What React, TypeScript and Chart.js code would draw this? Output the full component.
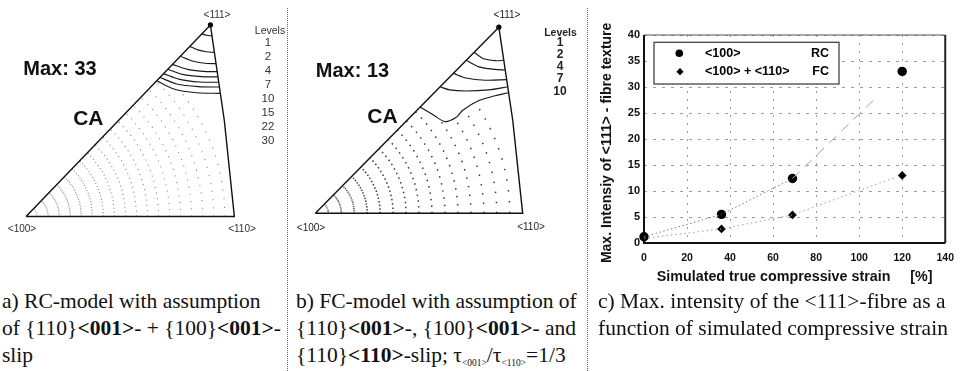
import React, { useEffect, useRef } from "react";
import { Chart, registerables } from "chart.js";

Chart.register(...registerables);

// ---------------- Panel c data ----------------
const STRAIN_PCT = [0, 36, 69, 120];
const RC_MAX_INTENSITY = [1.2, 5.5, 12.4, 33];
const FC_MAX_INTENSITY = [0.9, 2.7, 5.4, 13];
const RC_TREND_STRAIN = [0, 36, 69, 108];
const RC_TREND_VALUE = [1.2, 5.5, 12.4, 28];
const FC_TREND_STRAIN = [0, 36, 69, 116];
const FC_TREND_VALUE = [0.9, 2.7, 5.4, 12.5];
const X_TICKS = [0, 20, 40, 60, 80, 100, 120, 140];
const Y_TICKS = [0, 5, 10, 15, 20, 25, 30, 35, 40];
const LEGEND_LABELS = ["<100>", "<100> + <110>"];
const LEGEND_MODELS = ["RC", "FC"];
const X_AXIS_TITLE = "Simulated true compressive strain     [%]";
const Y_AXIS_TITLE = "Max. Intensiy of <111> - fibre texture  ";

// ---------------- Pole figure data (u: <100>=0 .. <110>=100, v: base=0 .. <111>=100) ----------------
const TRIANGLE_U = [0, 100, 95.2, 88.5, 0];
const TRIANGLE_V = [0, 0, 50, 100, 0];
const POLE_111 = [88.5, 100];

const RC_LEVELS = ["1", "2", "4", "7", "10", "15", "22", "30"];
const FC_LEVELS = ["1", "2", "4", "7", "10"];

const RC_CONTOURS_U = [
  [84.3, 86.8, 89.3],
  [78.6, 82.5, 86.5, 90.4],
  [74.1, 79.8, 85.7, 91.2],
  [70.3, 77.5, 85.0, 91.8],
  [68.1, 75.2, 84.0, 92.1],
  [66.0, 73.7, 83.4, 92.5],
  [64.3, 72.3, 82.7, 92.8],
  [62.7, 71.0, 82.0, 93.3],
];
const RC_CONTOURS_V = [
  [95.3, 94.6, 94.3],
  [88.8, 87.0, 86.0, 85.7],
  [83.7, 81.2, 80.0, 79.8],
  [79.4, 76.8, 75.8, 75.6],
  [76.9, 74.2, 73.0, 72.9],
  [74.6, 71.6, 70.2, 70.1],
  [72.6, 69.2, 67.8, 67.6],
  [70.9, 66.6, 64.6, 64.3],
];

const FC_CONTOURS_U = [
  [76.5, 81.2, 86.7, 90.9],
  [72.7, 78.9, 86.7, 91.6],
  [66.6, 72.7, 82.0, 92.3],
  [60.2, 64.8, 72.7, 83.6, 92.8],
  [50.5, 57.0, 62.5, 68.0, 71.1, 78.9, 86.7, 93.2],
];
const FC_CONTOURS_V = [
  [86.5, 83.0, 82.0, 82.2],
  [82.2, 78.7, 77.3, 77.0],
  [75.2, 72.7, 71.5, 71.8],
  [68.0, 66.3, 65.7, 66.3, 68.0],
  [57.1, 52.8, 49.3, 51.6, 55.4, 60.6, 63.2, 64.8],
];

const RC_ARC_RADII = [5.3, 10.6, 15.9, 21.2, 26.5, 31.8, 37.1, 42.4, 47.7, 53.0, 58.3, 63.6, 68.9, 74.2, 79.5, 84.8, 90.1, 95.4];
const FC_ARC_RADII = [6.25, 12.5, 18.75, 25.0, 31.25, 37.5, 43.75, 50.0, 56.25, 62.5, 68.75, 75.0, 81.25, 87.5, 93.75];

const SANS = "'Liberation Sans', Arial, sans-serif";
const SERIF = "'Liberation Serif', 'Times New Roman', serif";

// ---------------- plugins ----------------
const dotGridPlugin = {
  id: "dotGrid",
  beforeDatasetsDraw(chart: any, _args: any, opts: any) {
    const { radii, boundaryU, boundaryV, color, width, stepDeg } = opts;
    const xs = chart.scales.x;
    const ys = chart.scales.y;
    const ctx = chart.ctx;
    ctx.save();
    ctx.beginPath();
    boundaryU.forEach((u: number, i: number) => {
      const px = xs.getPixelForValue(u);
      const py = ys.getPixelForValue(boundaryV[i]);
      if (i === 0) ctx.moveTo(px, py);
      else ctx.lineTo(px, py);
    });
    ctx.closePath();
    ctx.clip();
    const cx = xs.getPixelForValue(0);
    const cy = ys.getPixelForValue(0);
    ctx.strokeStyle = color;
    ctx.lineWidth = width;
    radii.forEach((r: number) => {
      const R = xs.getPixelForValue(r) - cx;
      const period = (R * stepDeg * Math.PI) / 180;
      const dot = Math.min(width, period * 0.5);
      ctx.setLineDash([dot, Math.max(period - dot, 0.4)]);
      ctx.beginPath();
      ctx.arc(cx, cy, R, 0, -Math.PI * 0.32, true);
      ctx.stroke();
    });
    ctx.restore();
  },
};

const frameLegendPlugin = {
  id: "frameLegend",
  beforeDatasetsDraw(chart: any) {
    const { ctx, chartArea: a } = chart;
    ctx.save();
    ctx.setLineDash([]);
    ctx.strokeStyle = "#555";
    ctx.lineWidth = 1.2;
    ctx.beginPath();
    ctx.moveTo(a.left, a.top);
    ctx.lineTo(a.right, a.top);
    ctx.stroke();
    ctx.strokeStyle = "#222";
    ctx.lineWidth = 2;
    ctx.beginPath();
    ctx.moveTo(a.right, a.top);
    ctx.lineTo(a.right, a.bottom);
    ctx.stroke();
    ctx.strokeStyle = "#111";
    ctx.lineWidth = 2;
    ctx.beginPath();
    ctx.moveTo(a.left, a.top);
    ctx.lineTo(a.left, a.bottom);
    ctx.lineTo(a.right, a.bottom);
    ctx.stroke();
    ctx.restore();
  },
  afterDatasetsDraw(chart: any) {
    const { ctx, chartArea: a } = chart;
    const bx = a.left + 10;
    const by = a.top + 7.3;
    ctx.save();
    ctx.setLineDash([]);
    ctx.fillStyle = "#fff";
    ctx.fillRect(bx, by, 185, 41.7);
    ctx.strokeStyle = "#444";
    ctx.lineWidth = 1.3;
    ctx.strokeRect(bx, by, 185, 41.7);
    const rows = [a.top + 18.3, a.top + 36.7];
    ctx.fillStyle = "#000";
    ctx.beginPath();
    ctx.arc(a.left + 35.3, rows[0], 3.8, 0, Math.PI * 2);
    ctx.fill();
    const dx = a.left + 36;
    const dy = rows[1];
    ctx.beginPath();
    ctx.moveTo(dx, dy - 3.6);
    ctx.lineTo(dx + 3.6, dy);
    ctx.lineTo(dx, dy + 3.6);
    ctx.lineTo(dx - 3.6, dy);
    ctx.closePath();
    ctx.fill();
    ctx.font = `bold 12.5px ${SANS}`;
    ctx.textBaseline = "middle";
    LEGEND_LABELS.forEach((t, i) => {
      ctx.textAlign = "left";
      ctx.fillText(t, a.left + 61, rows[i]);
      ctx.textAlign = "right";
      ctx.fillText(LEGEND_MODELS[i], a.left + 185, rows[i]);
    });
    ctx.restore();
  },
};

// ---------------- Pole figure component ----------------
type PoleProps = {
  left: number;
  width: number;
  height: number;
  originX: number;
  originY: number;
  unitX: number;
  unitY: number;
  contoursU: number[][];
  contoursV: number[][];
  radii: number[];
  dotColor: string;
  dotWidth: number;
  stepDeg: number;
};

function PoleFigure(p: PoleProps) {
  const ref = useRef<HTMLCanvasElement>(null);
  useEffect(() => {
    if (!ref.current) return;
    const lowU = p.contoursU[p.contoursU.length - 1];
    const lowV = p.contoursV[p.contoursV.length - 1];
    const boundaryU = [TRIANGLE_U[0], TRIANGLE_U[1], TRIANGLE_U[2], ...lowU.slice().reverse(), TRIANGLE_U[0]];
    const boundaryV = [TRIANGLE_V[0], TRIANGLE_V[1], TRIANGLE_V[2], ...lowV.slice().reverse(), TRIANGLE_V[0]];
    const datasets: any[] = [
      {
        data: TRIANGLE_U.map((u, i) => ({ x: u, y: TRIANGLE_V[i] })),
        showLine: true,
        borderColor: "#111",
        borderWidth: 1.4,
        pointRadius: 0,
        tension: 0,
      },
      ...p.contoursU.map((cu, k) => ({
        data: cu.map((u, i) => ({ x: u, y: p.contoursV[k][i] })),
        showLine: true,
        borderColor: "#1a1a1a",
        borderWidth: 1.15,
        pointRadius: 0,
        tension: 0.3,
      })),
      {
        data: [{ x: POLE_111[0], y: POLE_111[1] }],
        showLine: false,
        pointRadius: 2.6,
        pointBackgroundColor: "#000",
        pointBorderWidth: 0,
      },
    ];
    const chart = new Chart(ref.current, {
      type: "scatter",
      data: { datasets },
      options: {
        animation: false,
        responsive: false,
        events: [],
        layout: { padding: 0 },
        scales: {
          x: { type: "linear", display: false, min: -p.originX / p.unitX, max: (p.width - p.originX) / p.unitX },
          y: { type: "linear", display: false, min: -(p.height - p.originY) / p.unitY, max: p.originY / p.unitY },
        },
        plugins: {
          legend: { display: false },
          tooltip: { enabled: false },
          dotGrid: { radii: p.radii, boundaryU, boundaryV, color: p.dotColor, width: p.dotWidth, stepDeg: p.stepDeg },
        } as any,
      },
      plugins: [dotGridPlugin as any],
    });
    return () => chart.destroy();
  }, []);
  return (
    <canvas
      ref={ref}
      width={p.width}
      height={p.height}
      style={{ position: "absolute", left: p.left, top: 0, width: p.width, height: p.height }}
    />
  );
}

// ---------------- Panel c chart ----------------
function StrainChart() {
  const ref = useRef<HTMLCanvasElement>(null);
  useEffect(() => {
    if (!ref.current) return;
    const pts = (xs: number[], ys: number[]) => xs.map((x, i) => ({ x, y: ys[i] }));
    const chart = new Chart(ref.current, {
      type: "scatter",
      data: {
        datasets: [
          {
            label: "RC trend",
            data: pts(RC_TREND_STRAIN, RC_TREND_VALUE),
            showLine: true,
            borderColor: "#7a7a7a",
            borderWidth: 1,
            borderDash: [1.5, 2.5],
            pointRadius: 0,
            clip: false,
            segment: {
              borderDash: (c: any) => (c.p0.parsed.x >= 69 ? [10, 7] : undefined),
              borderColor: (c: any) => (c.p0.parsed.x >= 69 ? "#a0a0a0" : undefined),
            },
          } as any,
          {
            label: "FC trend",
            data: pts(FC_TREND_STRAIN, FC_TREND_VALUE),
            showLine: true,
            borderColor: "#9a9a9a",
            borderWidth: 1,
            borderDash: [1.5, 3],
            pointRadius: 0,
            clip: false,
          } as any,
          {
            label: "<100> RC",
            data: pts(STRAIN_PCT, RC_MAX_INTENSITY),
            pointStyle: "circle",
            pointRadius: 4.7,
            pointBackgroundColor: "#000",
            pointBorderColor: "#000",
            pointBorderWidth: 0,
            clip: false,
          } as any,
          {
            label: "<100> + <110> FC",
            data: pts(STRAIN_PCT, FC_MAX_INTENSITY),
            pointStyle: "rectRot",
            pointRadius: 4.4,
            pointBackgroundColor: "#000",
            pointBorderColor: "#000",
            pointBorderWidth: 0,
            clip: false,
          } as any,
        ],
      },
      options: {
        animation: false,
        responsive: false,
        events: [],
        layout: { padding: { top: 35, right: 10, left: 0, bottom: 0 } },
        scales: {
          x: {
            type: "linear",
            min: 0,
            max: 140,
            afterBuildTicks: (s: any) => {
              s.ticks = X_TICKS.map((v) => ({ value: v }));
            },
            afterFit: (s: any) => {
              s.height = 47;
            },
            grid: { color: "#9c9c9c", lineWidth: 1, drawTicks: false },
            border: { display: false, dash: [2, 6] },
            ticks: { padding: 9, color: "#111", font: { family: SANS, size: 10.5, weight: "bold" } },
            title: {
              display: true,
              text: X_AXIS_TITLE,
              color: "#111",
              font: { family: SANS, size: 14.3, weight: "bold" },
              padding: { top: 0, bottom: 4.4 },
            },
          },
          y: {
            type: "linear",
            min: 0,
            max: 40,
            afterBuildTicks: (s: any) => {
              s.ticks = Y_TICKS.map((v) => ({ value: v }));
            },
            afterFit: (s: any) => {
              s.width = 48;
            },
            grid: { color: "#9c9c9c", lineWidth: 1, drawTicks: false },
            border: { display: false, dash: [3, 6] },
            ticks: { padding: 4, color: "#111", font: { family: SANS, size: 11, weight: "bold" } },
            title: {
              display: true,
              text: Y_AXIS_TITLE,
              color: "#111",
              font: { family: SANS, size: 14, weight: "bold" },
              padding: { top: 3, bottom: 0 },
            },
          },
        },
        plugins: { legend: { display: false }, tooltip: { enabled: false } },
      } as any,
      plugins: [frameLegendPlugin as any],
    });
    return () => chart.destroy();
  }, []);
  return (
    <canvas
      ref={ref}
      width={367}
      height={290}
      style={{ position: "absolute", left: 596, top: 0, width: 367, height: 290 }}
    />
  );
}

// ---------------- text helpers ----------------
function Label(props: { x: number; y: number; text: string; size: number; bold?: boolean; color?: string; weight?: number }) {
  return (
    <div
      style={{
        position: "absolute",
        left: props.x,
        top: props.y,
        transform: "translate(-50%, -50%)",
        fontFamily: SANS,
        fontSize: props.size,
        fontWeight: props.weight ?? (props.bold ? 700 : 400),
        color: props.color ?? "#111",
        whiteSpace: "pre",
        lineHeight: 1,
      }}
    >
      {props.text}
    </div>
  );
}

const captionStyle: React.CSSProperties = {
  position: "absolute",
  top: 288,
  fontFamily: SERIF,
  fontSize: 21.5,
  lineHeight: "27px",
  color: "#111",
  whiteSpace: "nowrap",
};
const subStyle: React.CSSProperties = { fontSize: 9.5, verticalAlign: "-4px", lineHeight: 0 };

export default function App() {
  return (
    <div
      style={{
        position: "absolute",
        left: 0,
        top: 0,
        width: 963,
        height: 371,
        background: "#fff",
        overflow: "hidden",
      }}
    >
      {/* Panel a */}
      <PoleFigure
        left={0}
        width={285}
        height={235}
        originX={22.7}
        originY={220}
        unitX={2.143}
        unitY={1.983}
        contoursU={RC_CONTOURS_U}
        contoursV={RC_CONTOURS_V}
        radii={RC_ARC_RADII}
        dotColor="#8a8a8a"
        dotWidth={1.1}
        stepDeg={2.5}
      />
      <Label x={217} y={15} text="<111>" size={10} color="#333" />
      <Label x={22} y={229} text="<100>" size={10} color="#333" />
      <Label x={242} y={229} text="<110>" size={10} color="#333" />
      <Label x={270} y={30} text="Levels" size={10.5} color="#333" />
      {RC_LEVELS.map((t, i) => (
        <Label key={"ra" + i} x={268} y={42.7 + i * 14.05} text={t} size={11.5} color="#333" />
      ))}
      <Label x={60} y={68.3} text="Max: 33" size={20} bold />
      <Label x={88.3} y={116.7} text="CA" size={21} bold />

      {/* Panel b */}
      <PoleFigure
        left={300}
        width={285}
        height={235}
        originX={11.7}
        originY={216.7}
        unitX={2.133}
        unitY={1.927}
        contoursU={FC_CONTOURS_U}
        contoursV={FC_CONTOURS_V}
        radii={FC_ARC_RADII}
        dotColor="#3a3a3a"
        dotWidth={1.5}
        stepDeg={3.2}
      />
      <Label x={507} y={15} text="<111>" size={10} color="#222" />
      <Label x={311} y={228} text="<100>" size={10} color="#222" />
      <Label x={531} y={227} text="<110>" size={10} color="#222" />
      <Label x={560.5} y={31.7} text="Levels" size={10.5} weight={700} color="#222" />
      {FC_LEVELS.map((t, i) => (
        <Label key={"fb" + i} x={560} y={41.7 + i * 12.25} text={t} size={12} weight={600} color="#222" />
      ))}
      <Label x={352.5} y={70} text="Max: 13" size={20} bold />
      <Label x={382.5} y={115} text="CA" size={21} bold />

      {/* Separators */}
      <div style={{ position: "absolute", left: 287, top: 8, height: 363, borderLeft: "1.5px dotted #666" }} />
      <div style={{ position: "absolute", left: 587, top: 8, height: 363, borderLeft: "1.5px dotted #666" }} />

      {/* Panel c */}
      <StrainChart />

      {/* Captions */}
      <div style={{ ...captionStyle, left: 2 }}>
        <div>a) RC-model with assumption</div>
        <div>
          of {"{110}"}<b>{"<001>"}</b>- + {"{100}"}<b>{"<001>"}</b>-
        </div>
        <div>slip</div>
      </div>
      <div style={{ ...captionStyle, left: 296 }}>
        <div>b) FC-model with assumption of</div>
        <div>
          {"{110}"}<b>{"<001>"}</b>-, {"{100}"}<b>{"<001>"}</b>- and
        </div>
        <div>
          {"{110}"}<b>{"<110>"}</b>-slip; τ<span style={subStyle}>{"<001>"}</span>/τ
          <span style={subStyle}>{"<110>"}</span>=1/3
        </div>
      </div>
      <div style={{ ...captionStyle, left: 598 }}>
        <div>c) Max. intensity of the {"<111>"}-fibre as a</div>
        <div>function of simulated compressive strain</div>
      </div>
    </div>
  );
}
